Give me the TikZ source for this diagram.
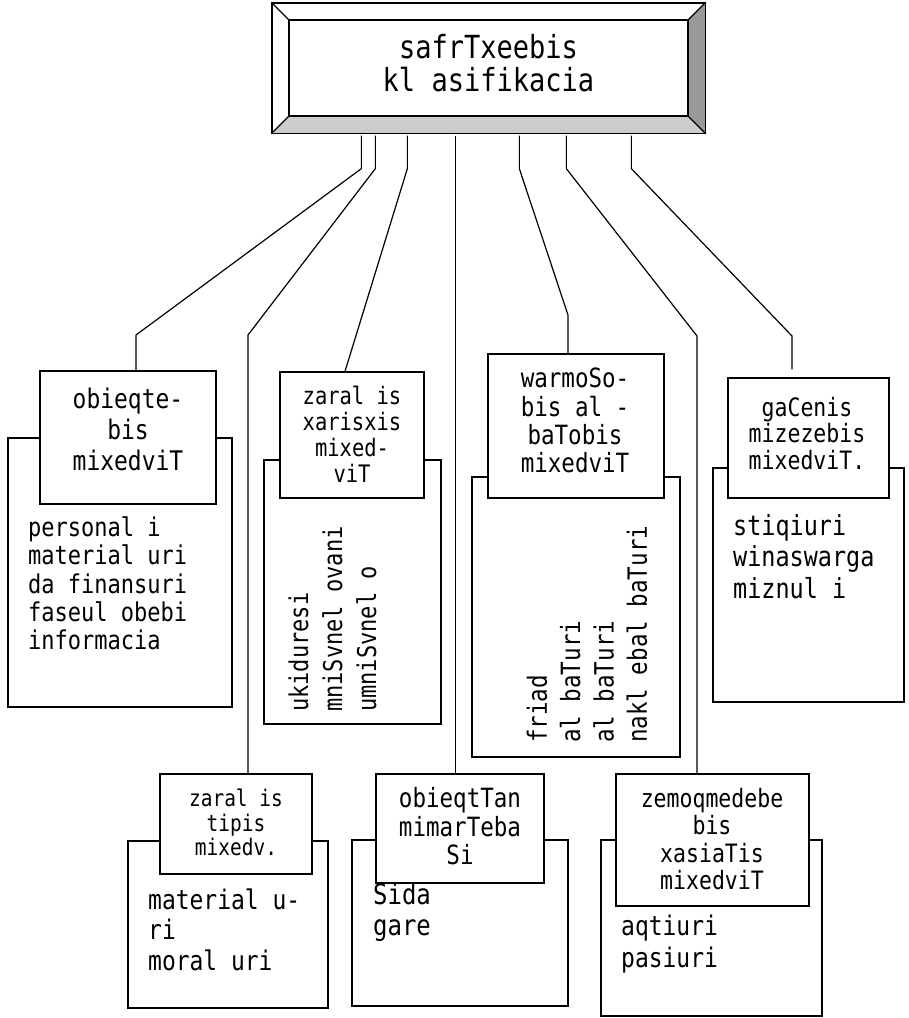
\documentclass[tikz,border=0pt]{standalone}
\usepackage{fontspec}
\setmainfont[FakeStretch=0.85]{DejaVu Sans Mono}
\usetikzlibrary{calc}
\definecolor{bevlight}{HTML}{CCCCCC}
\definecolor{bevdark}{HTML}{999999}
\begin{document}
\begin{tikzpicture}[x=1pt,y=-1pt,
  box/.style={draw, fill=white, inner sep=0pt, line width=1.3pt},
  txt/.style={inner sep=0pt, align=center},
  ltxt/.style={inner sep=0pt, align=left, anchor=west},
  rtxt/.style={inner sep=0pt, align=left, anchor=west, rotate=90},
  conn/.style={line width=1.2pt},
  fs/.style 2 args={font=\fontsize{#1}{#2}\selectfont}]
\useasboundingbox (0,0) rectangle (909,1018);

% ---------- top box with bevel ----------
\node[box, minimum width=433pt, minimum height=130pt] (T) at (488.5,68) {};
\fill[bevlight] (T.south west) -- (T.south east) -- (688,116) -- (289,116) -- cycle;
\fill[bevdark] (T.north east) -- (T.south east) -- (688,116) -- (688,20) -- cycle;
\draw[line width=1.3pt] (T.north west) rectangle (T.south east);
\draw[line width=1.3pt] (289,20) rectangle (688,116);
\draw[line width=1.1pt] (T.north west) -- (289,20) (T.north east) -- (688,20)
  (T.south west) -- (289,116) (T.south east) -- (688,116);
\node[txt, fs={31.8}{33}] (Tt) at (488.5,63.5) {safrTxeebis\\kl asifikacia};

% connector start points
\coordinate (t1) at ($(T.south west)+(90,2)$);
\coordinate (t2) at ($(T.south west)+(104,2)$);
\coordinate (t3) at ($(T.south west)+(136,2)$);
\coordinate (t4) at ($(T.south west)+(184,2)$);
\coordinate (t5) at ($(T.south west)+(248,2)$);
\coordinate (t6) at ($(T.south west)+(295,2)$);
\coordinate (t7) at ($(T.south west)+(360,2)$);

% ---------- background boxes ----------
\node[box, minimum width=224pt, minimum height=269pt] (Ab) at (120,572.5) {};
\node[box, minimum width=177pt, minimum height=264pt] (Bb) at (352.5,592) {};
\node[box, minimum width=208pt, minimum height=280pt] (Cb) at (576,617) {};
\node[box, minimum width=191pt, minimum height=234pt] (Db) at (808.5,585) {};
\node[box, minimum width=200pt, minimum height=167pt] (Eb) at (228,924.5) {};
\node[box, minimum width=216pt, minimum height=166pt] (Fb) at (460,923) {};
\node[box, minimum width=221pt, minimum height=176pt] (Gb) at (711.5,928) {};

% ---------- label boxes ----------
\node[box, minimum width=176pt, minimum height=133pt] (A) at (128,437.5) {};
\node[box, minimum width=144pt, minimum height=126pt] (B) at (352,435) {};
\node[box, minimum width=176pt, minimum height=144pt] (C) at (576,426) {};
\node[box, minimum width=161pt, minimum height=120pt] (D) at (808.5,438) {};
\node[box, minimum width=152pt, minimum height=100pt] (E) at (236,824) {};
\node[box, minimum width=168pt, minimum height=109pt] (F) at (460,828.5) {};
\node[box, minimum width=193pt, minimum height=132pt] (G) at (712.5,840) {};

% ---------- connectors ----------
\draw[conn] (t1) -- ++(0,33) -- (136,335) -- ([xshift=8pt]A.north);
\draw[conn] (t2) -- ++(0,33) -- (248,335) -- ([xshift=12pt]E.north);
\draw[conn] (t3) -- ++(0,33) -- ([xshift=-7pt]B.north);
\draw[conn] (t4) -- (t4 |- F.north);
\draw[conn] (t5) -- ++(0,33) -- (568,315) -- ([xshift=-8pt]C.north);
\draw[conn] (t6) -- ++(0,33) -- (697,336) -- ([xshift=-15.5pt]G.north);
\draw[conn] (t7) -- ++(0,33) -- (792,336) -- ([xshift=-16.5pt,yshift=8pt]D.north);

% ---------- label texts ----------
\node[txt, fs={27}{31}] (At) at (128,429.5) {obieqte-\\bis\\mixedviT};
\node[txt, fs={24.1}{26}] (Bt) at (352,434) {zaral is\\xarisxis\\mixed-\\viT};
\node[txt, fs={26.5}{28.3}] (Ct) at (575,420.5) {warmoSo-\\bis al -\\baTobis\\mixedviT};
\node[txt, fs={25.3}{26.5}] (Dt) at (807,433.5) {gaCenis\\mizezebis\\mixedviT.};
\node[txt, fs={22.9}{24.5}] (Et) at (236,822.5) {zaral is\\tipis\\mixedv.};
\node[txt, fs={26.5}{28.5}] (Ft) at (460,826.5) {obieqtTan\\mimarTeba\\Si};
\node[txt, fs={25.3}{27.3}] (Gt) at (712,839) {zemoqmedebe\\bis\\xasiaTis\\mixedviT};

% ---------- body texts ----------
\node[ltxt, fs={25.9}{28.25}] (Ax) at (28,583.5) {personal i\\material uri\\da finansuri\\faseul obebi\\informacia};
\node[rtxt, fs={25.9}{34}] (Bx) at (332.5,712) {ukiduresi\\mniSvnel ovani\\umniSvnel o};
\node[rtxt, fs={26.5}{33.3}] (Cx) at (587,743) {friad\\al baTuri\\al baTuri\\nakl ebal baTuri};
\node[ltxt, fs={27.6}{31.5}] (Dx) at (733,556.5) {stiqiuri\\winaswarga\\miznul i};
\node[ltxt, fs={27}{30.5}] (Ex) at (148,929.5) {material u-\\ri\\moral uri};
\node[ltxt, fs={28.2}{31}] (Fx) at (373,912.5) {Sida\\gare};
\node[ltxt, fs={27}{32}] (Gx) at (621,944) {aqtiuri\\pasiuri};
\end{tikzpicture}
\end{document}
